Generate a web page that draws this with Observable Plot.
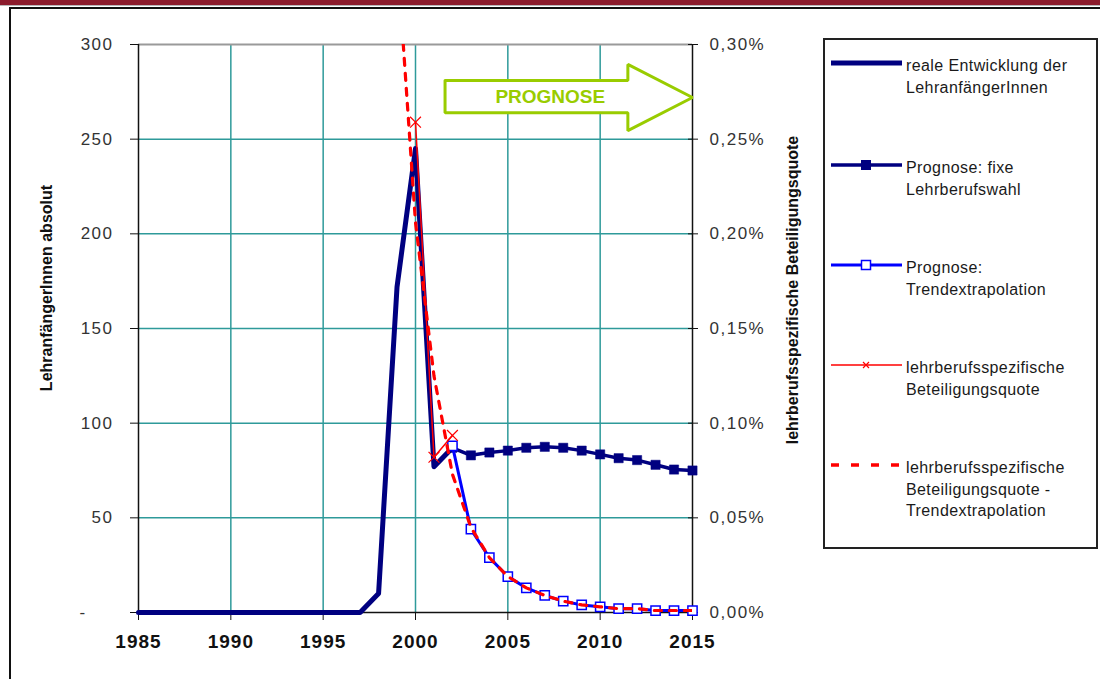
<!DOCTYPE html>
<html>
<head>
<meta charset="utf-8">
<script src="https://cdn.jsdelivr.net/npm/d3@7"></script>
<script src="https://cdn.jsdelivr.net/npm/@observablehq/plot@0.6"></script>
<style>
  html, body { margin: 0; padding: 0; background: #fff; }
  #page { position: relative; width: 1100px; height: 679px; overflow: hidden; font-family: "Liberation Sans", Arial, sans-serif; }
  #band { position: absolute; left: 0; top: 0; width: 1100px; height: 5px; background: #8C1C2D; }
  #bandline { position: absolute; left: 0; top: 5px; width: 1100px; height: 1px; background: #b9b9b9; }
  #frame { position: absolute; left: 9px; top: 7px; width: 1200px; height: 800px; border: 2px solid #111; box-sizing: border-box; }
  #chart { position: absolute; left: 0; top: 0; }
  .ytitle { position: absolute; font-weight: bold; font-size: 16px; color: #111; white-space: nowrap; transform: translate(-50%, -50%) rotate(-90deg); }
  #legend { position: absolute; left: 823px; top: 38px; width: 275px; height: 511px; border: 2px solid #222; box-sizing: border-box; background: #fff; }
  .lgsample { position: absolute; left: 827px; width: 78px; height: 14px; }
  .lgtext { position: absolute; left: 906px; font-size: 16px; line-height: 21.5px; color: #1a1a1a; letter-spacing: 0.4px; white-space: nowrap; }
</style>
</head>
<body>
<div id="page">
  <div id="band"></div>
  <div id="bandline"></div>
  <div id="frame"></div>
  <div id="chart"></div>
  <div class="ytitle" style="left:47px; top:288px;">LehranfängerInnen absolut</div>
  <div class="ytitle" style="left:793px; top:290px;">lehrberufsspezifische Beteiligungsquote</div>
  <div id="legend"></div>
  <div id="legendItems"></div>
</div>
<script>
// ---------- data ----------
const realYears = [1985,1986,1987,1988,1989,1990,1991,1992,1993,1994,1995,1996,1997,1998,1999,2000,2001,2002];
const realValues = [0,0,0,0,0,0,0,0,0,0,0,0,0,10,172,245,77,87];

const prognoseYears = [2002,2003,2004,2005,2006,2007,2008,2009,2010,2011,2012,2013,2014,2015];
const fixValues = [87,83,84.5,85.5,87,87.5,87,85.5,83.5,81.5,80.5,78,75.5,75];
const trendValues = [88,44,29,19,13,9,6,4,3,2,2,1,1,1];

const quoteYears = [2000,2001,2002];
const quoteValues = [0.259,0.082,0.0935]; // in %

const quoteTrendYears = [1999,2000,2001,2002,2003,2004,2005,2006,2007,2008,2009,2010,2011,2012,2013,2014,2015];
const quoteTrendValues = [0.348,0.206,0.125,0.073,0.045,0.029,0.019,0.013,0.009,0.006,0.004,0.003,0.002,0.002,0.001,0.001,0.001]; // in %

const xTicks = [1985,1990,1995,2000,2005,2010,2015];
const yTicks = [0,50,100,150,200,250,300];
const pctPerUnit = 0.001; // percent per absolute unit: 300 absolut <-> 0,30 %

// PROGNOSE arrow annotation (in data units: year, absolute value)
const arrowX = [2001.6,2011.5,2011.5,2015.0,2011.5,2011.5,2001.6,2001.6];
const arrowY = [281,281,289.5,272,254.5,264,264,281];
const arrowLabel = {text: "PROGNOSE", x: 2007.3, y: 272.5};

const legendLabels = [
  ["reale Entwicklung der", "LehranfängerInnen"],
  ["Prognose: fixe", "Lehrberufswahl"],
  ["Prognose:", "Trendextrapolation"],
  ["lehrberufsspezifische", "Beteiligungsquote"],
  ["lehrberufsspezifische", "Beteiligungsquote -", "Trendextrapolation"]
];

// ---------- build tables ----------
const real = realYears.map((x, i) => ({x, y: realValues[i]}));
const fix = prognoseYears.map((x, i) => ({x, y: fixValues[i]}));
const trend = prognoseYears.map((x, i) => ({x, y: trendValues[i]}));
const quote = quoteYears.map((x, i) => ({x, y: quoteValues[i] / pctPerUnit}));
const quoteTrend = quoteTrendYears.map((x, i) => ({x, y: quoteTrendValues[i] / pctPerUnit}));
const arrow = arrowX.map((x, i) => ({x, y: arrowY[i]}));

const NAVY = "#000080", BLUE = "#0000FF", RED = "#FF0000", TEAL = "#2E9A9A", GREEN = "#99CC00";
const pctFmt = d => (d * pctPerUnit).toFixed(2).replace(".", ",") + "%";

const chart = Plot.plot({
  width: 1100,
  height: 679,
  marginLeft: 138,
  marginRight: 408,
  marginTop: 44,
  marginBottom: 67,
  x: {domain: [xTicks[0], xTicks[xTicks.length - 1]]},
  y: {domain: [yTicks[0], yTicks[yTicks.length - 1]]},
  style: {fontFamily: "'Liberation Sans', Arial, sans-serif", background: "transparent", color: "#111", overflow: "visible"},
  marks: [
    Plot.gridX(xTicks.slice(1, -1), {stroke: TEAL, strokeOpacity: 1, strokeWidth: 1.5}),
    Plot.gridY(yTicks.slice(1, -1), {stroke: TEAL, strokeOpacity: 1, strokeWidth: 1.5}),
    Plot.ruleY([yTicks[yTicks.length - 1]], {stroke: "#9a9a9a", strokeWidth: 2}),
    Plot.ruleX([xTicks[0], xTicks[xTicks.length - 1]], {stroke: "#111", strokeWidth: 1.5}),
    Plot.ruleY([yTicks[0]], {stroke: "#111", strokeWidth: 1.5}),
    Plot.axisX({ticks: xTicks, tickFormat: d => String(d), tickSize: 8, tickPadding: 14, fontSize: 19, fontWeight: "bold", label: null}),
    Plot.axisY({anchor: "left", ticks: yTicks, tickFormat: d => d === 0 ? "-\u2007\u2007\u2009" : String(d), tickSize: 8, tickPadding: 17, fontSize: 17, label: null}),
    Plot.axisY({anchor: "right", ticks: yTicks, tickFormat: pctFmt, tickSize: 5, tickPadding: 12, fontSize: 17, label: null}),
    Plot.axisY({anchor: "right", ticks: yTicks, tickFormat: () => "", tickSize: -5, label: null}),
    // series
    Plot.line(real, {x: "x", y: "y", stroke: NAVY, strokeWidth: 5}),
    Plot.line(fix, {x: "x", y: "y", stroke: NAVY, strokeWidth: 3.5}),
    Plot.dot(fix, {x: "x", y: "y", symbol: "square", r: 5.2, fill: NAVY, stroke: NAVY, strokeWidth: 0.5}),
    Plot.line(trend, {x: "x", y: "y", stroke: BLUE, strokeWidth: 3}),
    Plot.dot(trend, {x: "x", y: "y", symbol: "square", r: 5.2, fill: "#fff", stroke: BLUE, strokeWidth: 1.5}),
    Plot.line(quote, {x: "x", y: "y", stroke: RED, strokeWidth: 1.5}),
    Plot.dot(quote, {x: "x", y: "y", symbol: "times", r: 5, stroke: RED, strokeWidth: 1.2}),
    Plot.line(quoteTrend, {x: "x", y: "y", stroke: RED, strokeWidth: 3.2, strokeDasharray: "7,8", clip: true}),
    // PROGNOSE arrow
    Plot.line(arrow, {x: "x", y: "y", stroke: GREEN, strokeWidth: 3, fill: "#fff", strokeLinejoin: "miter"}),
    Plot.text([arrowLabel], {x: "x", y: "y", text: "text", fill: GREEN, fontSize: 19, fontWeight: "bold"})
  ]
});
document.getElementById("chart").appendChild(chart);
const svg = d3.select(chart);
svg.selectAll('g[aria-label="x-axis tick label"] text').attr("letter-spacing", "1px");
svg.selectAll('g[aria-label="y-axis tick label"] text').attr("letter-spacing", "1.5px").attr("fill", "#333");

// ---------- legend ----------
const lineYs = [63, 165, 265, 365, 465];
const items = document.getElementById("legendItems");
const samples = [
  `<line x1="4" x2="75" y1="7" y2="7" stroke="${NAVY}" stroke-width="5"/>`,
  `<line x1="4" x2="75" y1="7" y2="7" stroke="${NAVY}" stroke-width="3.5"/><rect x="34" y="2" width="10" height="10" fill="${NAVY}"/>`,
  `<line x1="4" x2="75" y1="7" y2="7" stroke="${BLUE}" stroke-width="3"/><rect x="34.5" y="2.5" width="9" height="9" fill="#fff" stroke="${BLUE}" stroke-width="1.5"/>`,
  `<line x1="4" x2="75" y1="7" y2="7" stroke="${RED}" stroke-width="1.5"/><path d="M36,4 L42,10 M42,4 L36,10" stroke="${RED}" stroke-width="1.2"/>`,
  `<line x1="4" x2="75" y1="7" y2="7" stroke="${RED}" stroke-width="3.5" stroke-dasharray="8,12"/>`
];
legendLabels.forEach((lines, i) => {
  const s = document.createElement("div");
  s.className = "lgsample";
  s.style.top = (lineYs[i] - 7) + "px";
  s.innerHTML = `<svg width="78" height="14">${samples[i]}</svg>`;
  items.appendChild(s);
  const t = document.createElement("div");
  t.className = "lgtext";
  t.style.top = (lineYs[i] + 3 - 10.75) + "px";
  t.innerHTML = lines.join("<br>");
  items.appendChild(t);
});
</script>
</body>
</html>
